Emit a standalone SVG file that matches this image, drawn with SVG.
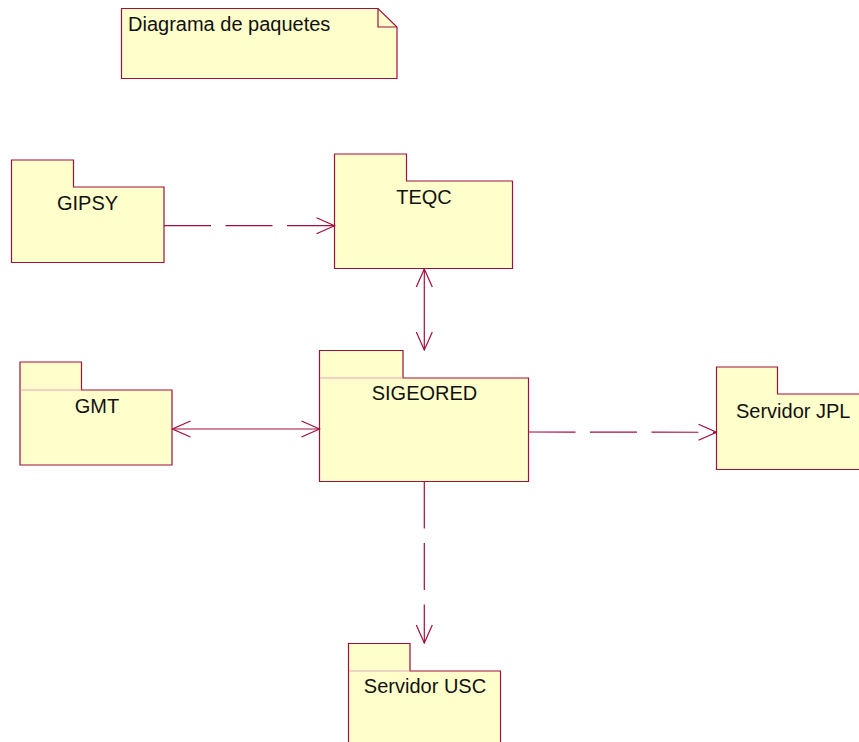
<svg xmlns="http://www.w3.org/2000/svg" width="859" height="742" viewBox="0 0 859 742">
  <style>
    .shape { fill: #FFFFCC; stroke: #A0103C; stroke-width: 1.2; }
    .tabline { fill: none; stroke: #E4A3B4; stroke-width: 1; }
    .label { font-family: "Liberation Sans", Arial, sans-serif; font-size: 20px; fill: #111111; }
    .link { fill: none; stroke: #A0103C; stroke-width: 1.2; }
    .dashed { stroke-dasharray: 47 14.5; }
  </style>
  <defs>
    <marker id="open-arrow" viewBox="0 0 20 18" refX="19" refY="9" markerWidth="20" markerHeight="18" markerUnits="userSpaceOnUse" orient="auto-start-reverse">
      <path d="M1,1 L19,9 L1,17" fill="none" stroke="#A0103C" stroke-width="1.2" stroke-dasharray="none"/>
    </marker>
  </defs>

  <!-- note -->
  <g id="note">
    <path class="shape" d="M121.5,8.5 H378 L397,27 V78.5 H121.5 Z"/>
    <path class="link" d="M378,8.5 V27 H397"/>
    <text class="label" x="128" y="31">Diagrama de paquetes</text>
  </g>

  <!-- packages -->
  <g id="gipsy">
    <path class="shape" d="M11.5,160 H73.5 V187 H164 V262.5 H11.5 Z"/>
    <text class="label" x="87.5" y="210" text-anchor="middle">GIPSY</text>
  </g>

  <g id="teqc">
    <path class="shape" d="M334.5,154 H406.5 V181 H512.5 V268.5 H334.5 Z"/>
    <text class="label" x="424" y="204" text-anchor="middle">TEQC</text>
  </g>

  <g id="gmt">
    <path class="shape" d="M20,362 H81.5 V390 H172 V465 H20 Z"/>
    <line class="tabline" x1="20.6" y1="390" x2="81.5" y2="390"/>
    <text class="label" x="97" y="413" text-anchor="middle">GMT</text>
  </g>

  <g id="sigeored">
    <path class="shape" d="M319.5,350.5 H403 V378 H528.5 V481.5 H319.5 Z"/>
    <line class="tabline" x1="320.1" y1="378" x2="403" y2="378"/>
    <text class="label" x="424.5" y="400" text-anchor="middle">SIGEORED</text>
  </g>

  <g id="servidor-jpl">
    <path class="shape" d="M716.5,367 H777.5 V394 H862 V469.5 H716.5 Z"/>
    <text class="label" x="736" y="417.5">Servidor JPL</text>
  </g>

  <g id="servidor-usc">
    <path class="shape" d="M348.5,643.5 H410 V671 H500.5 V746 H348.5 Z"/>
    <line class="tabline" x1="349.1" y1="671" x2="410" y2="671"/>
    <text class="label" x="425" y="693" text-anchor="middle">Servidor USC</text>
  </g>

  <!-- connectors -->
  <g id="connectors">
    <line class="link dashed" x1="164" y1="225.7" x2="334.5" y2="225.7" marker-end="url(#open-arrow)"/>
    <line class="link" x1="424.3" y1="269" x2="424.3" y2="350" marker-start="url(#open-arrow)" marker-end="url(#open-arrow)"/>
    <line class="link" x1="172.5" y1="429" x2="319.5" y2="429" stroke-width="1.6" marker-start="url(#open-arrow)" marker-end="url(#open-arrow)"/>
    <line class="link dashed" x1="528.5" y1="432" x2="716.5" y2="432.3" marker-end="url(#open-arrow)"/>
    <line class="link dashed" x1="424.3" y1="481.5" x2="424.3" y2="643" marker-end="url(#open-arrow)"/>
  </g>
</svg>
